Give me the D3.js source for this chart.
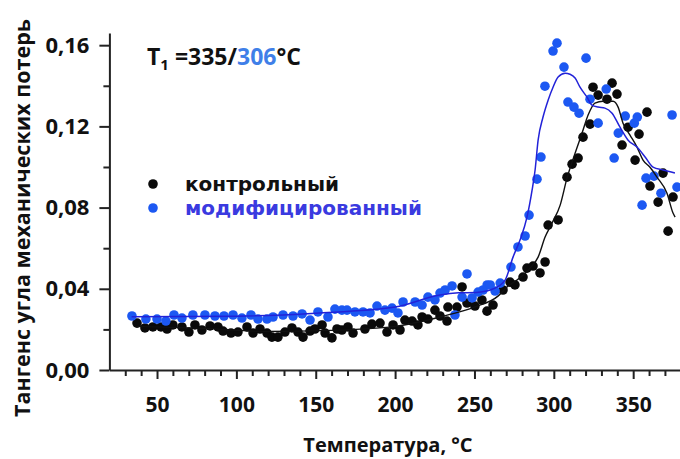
<!DOCTYPE html>
<html>
<head>
<meta charset="utf-8">
<script src="https://cdn.jsdelivr.net/npm/d3@7"></script>
<style>
  html, body { margin: 0; padding: 0; background: #fff; }
  svg { display: block; }
  text { font-family: "Open Sans", "DejaVu Sans", sans-serif; font-weight: 700; fill: #111; }
  .legend-label { font-family: "DejaVu Sans", sans-serif; }
</style>
</head>
<body>
<svg id="chart" width="680" height="459"></svg>
<script>
// Температура, °C — контрольный образец
const controlT = [37.4,42.4,47.4,52.5,56.3,60.0,65.7,70.1,73.9,78.3,83.4,88.4,91.6,96.6,101.0,106.7,110.5,114.9,119.3,122.4,126.2,130.6,135.0,138.8,142.0,146.4,149.5,154.0,155.9,160.2,163.4,166.5,170.3,173.5,181.0,185.4,190.5,194.9,198.7,203.1,206.2,210.7,214.4,217.0,220.7,225.1,228.3,232.7,233.3,239.0,242.2,245.3,250.3,254.7,257.9,261.7,268.0,272.4,275.5,280.6,283.1,286.9,291.3,294.5,296.4,302.7,308.3,311.5,315.3,318.4,322.8,324.7,327.9,333.5,336.7,339.8,343.0,346.8,351.2,353.7,358.7,360.6,365.7,368.8,372.0,375.1];
const controlTan = [0.0231,0.0207,0.0212,0.0212,0.0202,0.0222,0.0212,0.0187,0.0222,0.0197,0.0217,0.0212,0.0192,0.0182,0.0187,0.0212,0.0182,0.0202,0.0182,0.0162,0.0162,0.0187,0.0207,0.0187,0.0162,0.0192,0.0202,0.0222,0.0182,0.0158,0.0202,0.0197,0.0212,0.0182,0.0202,0.0226,0.0231,0.0187,0.0222,0.0197,0.0246,0.0241,0.0222,0.0261,0.0251,0.0295,0.0266,0.0241,0.0310,0.0310,0.0409,0.0330,0.0315,0.0345,0.0290,0.0320,0.0394,0.0433,0.0419,0.0458,0.0502,0.0512,0.0478,0.0532,0.0714,0.0739,0.0950,0.1014,0.1044,0.1147,0.1211,0.1393,0.1354,0.1334,0.1413,0.1359,0.1108,0.1196,0.1034,0.1162,0.1270,0.0906,0.0827,0.0970,0.0684,0.0852];

// Модифицированный образец
const modT = [34.2,43.0,50.0,55.6,60.7,65.7,72.6,80.2,86.5,92.2,97.9,103.5,109.2,113.6,119.3,123.1,129.4,135.7,141.4,146.4,151.4,157.7,162.1,166.5,169.7,174.7,179.8,184.2,188.6,193.6,198.1,201.8,205.0,212.6,217.0,220.7,225.1,228.3,231.5,235.9,237.7,242.2,245.3,248.5,252.3,255.4,258.0,259.9,263.0,266.2,273.0,277.4,281.9,284.4,289.4,291.9,294.4,299.5,302.0,306.4,308.9,312.7,315.9,320.3,322.8,327.9,333.0,338.0,340.6,345.0,350.7,352.6,355.6,358.1,363.1,367.5,374.5,377.6];
const modTan = [0.0266,0.0251,0.0251,0.0241,0.0271,0.0256,0.0271,0.0271,0.0266,0.0266,0.0271,0.0256,0.0271,0.0251,0.0251,0.0261,0.0271,0.0266,0.0276,0.0246,0.0286,0.0261,0.0300,0.0295,0.0295,0.0286,0.0286,0.0281,0.0315,0.0295,0.0305,0.0281,0.0335,0.0335,0.0320,0.0359,0.0345,0.0379,0.0394,0.0414,0.0271,0.0359,0.0473,0.0355,0.0384,0.0394,0.0419,0.0419,0.0389,0.0428,0.0507,0.0606,0.0660,0.0763,0.0940,0.1049,0.1398,0.1571,0.1610,0.1492,0.1320,0.1295,0.1265,0.1536,0.1334,0.1216,0.1384,0.1044,0.1167,0.1251,0.1216,0.1246,0.0812,0.0945,0.0955,0.0871,0.1256,0.0901];

// Сглаживающие кривые
const controlFitT = [37,80,120,160,200,230,250,265,270.5,276.8,285.0,290.1,294.5,298.9,304.0,308.3,313.4,317.8,321.6,325.9,331.0,337.3,340.5,343.6,348.0,352.4,356.2,360.6,365.0,371.3,375.1,376.4];
const controlFitTan = [0.0215,0.0205,0.0190,0.0195,0.0215,0.0265,0.0310,0.0365,0.0409,0.0443,0.0502,0.0556,0.0655,0.0724,0.0812,0.0945,0.1068,0.1167,0.1256,0.1315,0.1324,0.1324,0.1295,0.1216,0.1157,0.1098,0.1034,0.0999,0.0950,0.0871,0.0773,0.0753];
const modFitT = [34,100,150,200,228.3,240,251,262,269.3,274.3,278.7,283.1,286.3,288.2,290.1,293.2,296.4,299.5,302.7,307.1,310.2,313.4,316.5,320.9,324.1,327.9,332.2,336.7,341.7,346.8,352.4,357.5,362.5,368.8,376.3];
const modFitTan = [0.0262,0.0265,0.0280,0.0310,0.0370,0.0380,0.0382,0.0400,0.0443,0.0556,0.0640,0.0753,0.0886,0.0985,0.1132,0.1246,0.1329,0.1393,0.1443,0.1462,0.1457,0.1438,0.1393,0.1344,0.1305,0.1295,0.1290,0.1265,0.1196,0.1132,0.1098,0.1049,0.0999,0.0985,0.0970];

// Оси
const xMajorTicks = [50, 100, 150, 200, 250, 300, 350];
const xMinorTicks = [30,40,60,70,80,90,110,120,130,140,160,170,180,190,210,220,230,240,260,270,280,290,310,320,330,340,360,370];
const yMajorTicks = [0, 0.04, 0.08, 0.12, 0.16];
const yMinorTicks = [0.02, 0.06, 0.10, 0.14];

const legendLabels = ["контрольный", "модифицированный"];
const xTitle = "Температура, °C";
const yTitle = "Тангенс угла механических потерь";

const colorControl = "#0a0a0a";
const colorMod = "#1c58f2";
const colorModLine = "#2222d8";
const colorModText = "#3a3ae0";

const svg = d3.select("#chart");

const x = d3.scaleLinear().domain([20, 380]).range([109.4, 680.8]);
const y = d3.scaleLinear().domain([0, 0.166]).range([370, 33]);

const ru = d3.formatLocale({ decimal: ",", thousands: " ", grouping: [3], currency: ["", ""] });
const fmtY = ru.format(".2f");

// ось X
const gx = svg.append("g").attr("transform", `translate(0,${y(0)})`);
gx.call(d3.axisBottom(x).tickValues(xMinorTicks).tickSize(6).tickFormat(""));
gx.call(g => g.select(".domain").remove());
const gx2 = svg.append("g").attr("transform", `translate(0,${y(0)})`)
  .call(d3.axisBottom(x).tickValues(xMajorTicks).tickSize(9).tickSizeOuter(0).tickPadding(18));
[gx, gx2].forEach(g => {
  g.selectAll("line").attr("stroke", "#222").attr("stroke-width", 2);
  g.selectAll(".domain").attr("stroke", "#222").attr("stroke-width", 2);
});
gx2.selectAll("text").style("font-size", "21px").attr("fill", "#111")
  .style("font-family", "'Open Sans', sans-serif").style("font-weight", 700);

// ось Y
const gy = svg.append("g").attr("transform", `translate(${x(20)},0)`);
gy.call(d3.axisLeft(y).tickValues(yMinorTicks).tickSize(6).tickFormat(""));
gy.call(g => g.select(".domain").remove());
const gy2 = svg.append("g").attr("transform", `translate(${x(20)},0)`)
  .call(d3.axisLeft(y).tickValues(yMajorTicks).tickSize(10).tickSizeOuter(0).tickPadding(10).tickFormat(fmtY));
[gy, gy2].forEach(g => {
  g.selectAll("line").attr("stroke", "#222").attr("stroke-width", 2);
  g.selectAll(".domain").attr("stroke", "#222").attr("stroke-width", 2);
});
gy2.selectAll("text").style("font-size", "22px").attr("fill", "#111")
  .style("font-family", "'Open Sans', sans-serif").style("font-weight", 700);

// подписи осей
svg.append("text")
  .attr("x", 388).attr("y", 452)
  .attr("text-anchor", "middle")
  .style("font-size", "20px")
  .text(xTitle);
svg.append("text")
  .attr("transform", `translate(30,218) rotate(-90)`)
  .attr("text-anchor", "middle")
  .style("font-size", "21.5px")
  .text(yTitle);

// точки
const controlPts = controlT.map((t, i) => [t, controlTan[i]]);
const modPts = modT.map((t, i) => [t, modTan[i]]);

svg.append("g").selectAll("circle").data(controlPts).join("circle")
  .attr("cx", d => x(d[0])).attr("cy", d => y(d[1])).attr("r", 4.8)
  .attr("fill", colorControl);
svg.append("g").selectAll("circle").data(modPts).join("circle")
  .attr("cx", d => x(d[0])).attr("cy", d => y(d[1])).attr("r", 4.8)
  .attr("fill", colorMod);

// кривые
const line = d3.line().x(d => x(d[0])).y(d => y(d[1])).curve(d3.curveMonotoneX);
svg.append("path")
  .datum(controlFitT.map((t, i) => [t, controlFitTan[i]]))
  .attr("d", line).attr("fill", "none")
  .attr("stroke", "#111").attr("stroke-width", 1.4);
svg.append("path")
  .datum(modFitT.map((t, i) => [t, modFitTan[i]]))
  .attr("d", line).attr("fill", "none")
  .attr("stroke", colorModLine).attr("stroke-width", 1.5);

// заголовок T1
const title = svg.append("text").attr("x", 147).attr("y", 65).style("font-size", "23px");
title.append("tspan").text("T");
title.append("tspan").attr("dy", 5).style("font-size", "15px").text("1");
title.append("tspan").attr("dy", -5).text(" =335/");
title.append("tspan").style("fill", "#3f7fe8").text("306");
title.append("tspan").text("°C");

// легенда
const legendColors = [colorControl, colorMod];
const legendText = ["#111", colorModText];
const legendTop = 184, legendStep = 24;
const legend = svg.append("g");
legendLabels.forEach((lab, i) => {
  const cy = legendTop + i * legendStep;
  legend.append("circle").attr("cx", 153).attr("cy", cy).attr("r", 4.8).attr("fill", legendColors[i]);
  legend.append("text").attr("class", "legend-label")
    .attr("x", 185).attr("y", cy + 7)
    .style("font-size", "20px").style("fill", legendText[i]).text(lab);
});
</script>
</body>
</html>
